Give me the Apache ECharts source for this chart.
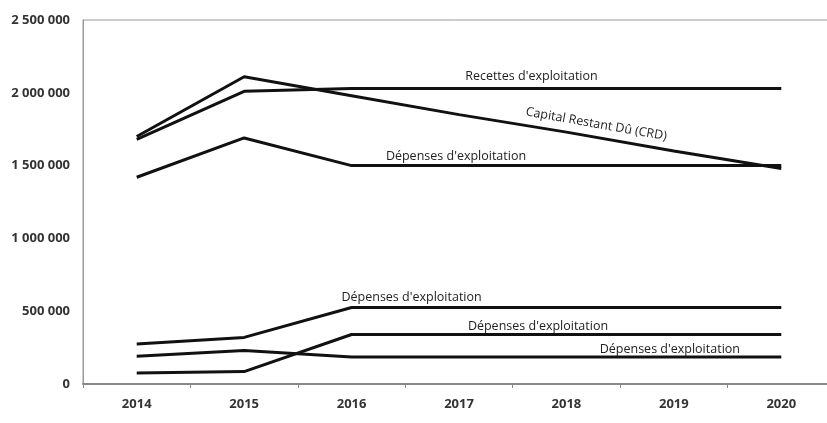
<!DOCTYPE html>
<html>
<head>
<meta charset="utf-8">
<script src="https://cdn.jsdelivr.net/npm/echarts@6/dist/echarts.min.js"></script>
<style>
html,body{margin:0;padding:0;background:#fff;}
#chart{width:827px;height:423px;}
</style>
</head>
<body>
<div id="chart"></div>
<script>
var years = ['2014','2015','2016','2017','2018','2019','2020'];
var yTicks = [0, 500000, 1000000, 1500000, 2000000, 2500000];
var recettes = [1680000, 2010000, 2030000, 2030000, 2030000, 2030000, 2030000];
var capitalCRD = [1700000, 2110000, 1980000, 1850000, 1730000, 1600000, 1480000];
var depensesA = [1420000, 1690000, 1500000, 1500000, 1500000, 1500000, 1500000];
var depensesB = [275000, 320000, 525000, 525000, 525000, 525000, 525000];
var depensesC = [190000, 230000, 185000, 185000, 185000, 185000, 185000];
var depensesD = [75000, 85000, 340000, 340000, 340000, 340000, 340000];
var labelRecettes = "Recettes d'exploitation";
var labelCRD = "Capital Restant Dû (CRD)";
var labelDepenses = "Dépenses d'exploitation";

function fmt(v){ return String(v).replace(/\B(?=(\d{3})+(?!\d))/g, ' '); }

var txt = {fontFamily:'Open Sans', fontSize:12.5, color:'#222'};

function mk(name, data, cat, labelText, offset, rotate){
  var idx = years.indexOf(cat);
  return {
    name: name, type:'line', data: data, symbol:'none', silent:true,
    lineStyle:{color:'#111', width:3},
    markPoint:{
      symbol:'circle', symbolSize:0, silent:true,
      data:[{coord:[cat, data[idx]], value:labelText}],
      label:Object.assign({show:true, position:'inside', offset:offset, rotate:rotate||0,
        formatter:function(){return labelText;}}, txt)
    }
  };
}

var chart = echarts.init(document.getElementById('chart'));
chart.setOption({
  animation:false,
  backgroundColor:'#fff',
  grid:{left:83, top:20, width:752, height:364, containLabel:false, outerBoundsMode:'none',
    show:true, borderColor:'#999', borderWidth:1, backgroundColor:'transparent'},
  xAxis:{
    type:'category', data:years, boundaryGap:true,
    axisLine:{lineStyle:{color:'#888', width:2}},
    axisTick:{show:true, length:4, lineStyle:{color:'#888'}},
    axisLabel:{fontFamily:'Open Sans', fontWeight:'bold', fontSize:13, color:'#333', margin:14}
  },
  yAxis:{
    type:'value', min:0, max:2500000, interval:500000,
    axisLine:{show:true, lineStyle:{color:'#999', width:1}},
    axisTick:{show:false},
    splitLine:{show:false},
    axisLabel:{fontFamily:'Open Sans', fontWeight:'bold', fontSize:13, color:'#333', margin:13,
      formatter:function(v){ return fmt(v); }}
  },
  series:[
    mk('Recettes', recettes, '2018', labelRecettes, [-35,-12]),
    mk('CRD', capitalCRD, '2018', labelCRD, [28,-13], -10),
    mk('DepensesA', depensesA, '2017', labelDepenses, [-3,-9]),
    mk('DepensesB', depensesB, '2016', labelDepenses, [60,-10]),
    mk('DepensesC', depensesC, '2019', labelDepenses, [-4,-8]),
    mk('DepensesD', depensesD, '2017', labelDepenses, [79,-8])
  ]
});
</script>
</body>
</html>
